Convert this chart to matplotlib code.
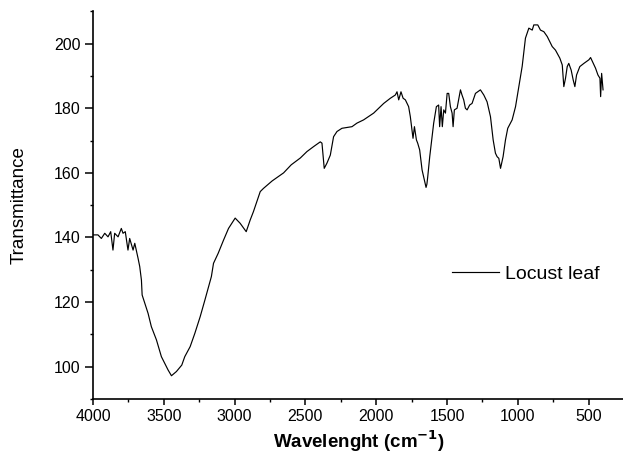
import matplotlib
matplotlib.use("Agg")
import matplotlib.pyplot as plt
from matplotlib.ticker import MultipleLocator

plt.rcParams['font.family'] = ['Liberation Sans', 'DejaVu Sans']

# ---- data ----
wavenumber = [
    4000, 3965, 3941, 3917, 3894, 3875, 3859, 3847, 3823, 3800, 3788, 3772,
    3753, 3741, 3717, 3705, 3682, 3670, 3658, 3653, 3634, 3611, 3588, 3552,
    3517, 3470, 3446, 3411, 3373, 3352, 3314, 3281, 3243, 3210, 3164, 3149,
    3116, 3078, 3043, 2996, 2961, 2918, 2890, 2867, 2843, 2819, 2796, 2735,
    2654, 2600, 2536, 2489, 2440, 2395, 2383, 2367, 2348, 2324, 2301, 2277,
    2242, 2171, 2136, 2089, 2018, 1947, 1900, 1865, 1853, 1841, 1825, 1810,
    1794, 1771, 1759, 1740, 1730, 1716, 1707, 1693, 1676, 1660, 1648, 1642,
    1636, 1622, 1594, 1575, 1559, 1552, 1542, 1533, 1523, 1511, 1499, 1488,
    1476, 1464, 1457, 1448, 1429, 1405, 1394, 1382, 1370, 1358, 1340, 1323,
    1299, 1264, 1240, 1217, 1193, 1174, 1158, 1146, 1134, 1122, 1104, 1087,
    1071, 1040, 1016, 993, 969, 946, 922, 898, 887, 859, 840, 816, 792, 757,
    734, 703, 686, 675, 663, 651, 640, 623, 609, 597, 585, 562, 533, 498,
    486, 467, 451, 434, 420, 415, 408, 398,
]
transmittance = [
    140.8, 140.8, 139.7, 141.3, 140.2, 141.8, 136.1, 141.3, 140.2, 142.8, 141.3, 141.8,
    136.1, 139.7, 136.1, 138.2, 133.6, 131.0, 126.8, 122.2, 119.6, 116.5, 112.4, 108.3,
    103.1, 99.0, 97.2, 98.5, 100.5, 103.1, 106.2, 110.3, 115.5, 120.6, 127.9, 132.0,
    135.1, 139.2, 142.8, 146.0, 144.4, 141.8, 145.4, 148.0, 151.1, 154.2, 155.2, 157.5,
    160.0, 162.5, 164.6, 166.6, 168.2, 169.6, 169.2, 161.4, 163.0, 165.5, 171.2, 172.8,
    173.8, 174.3, 175.4, 176.4, 178.5, 181.5, 183.1, 184.1, 185.1, 182.6, 185.1, 183.1,
    182.6, 180.5, 177.4, 170.7, 174.3, 170.2, 169.2, 167.1, 160.9, 157.8, 155.5, 156.5,
    158.8, 165.0, 175.4, 180.5, 181.0, 174.3, 180.5, 174.3, 179.5, 178.5, 184.6, 184.6,
    180.5, 178.5, 174.3, 179.5, 180.0, 185.7, 184.1, 182.6, 180.0, 179.5, 181.0, 181.5,
    184.6, 185.7, 184.1, 182.0, 177.4, 170.2, 166.1, 165.0, 164.5, 161.4, 165.0, 170.2,
    173.8, 176.4, 180.5, 186.7, 193.0, 201.7, 204.8, 204.2, 205.8, 205.8, 204.2, 203.7, 202.2, 199.1,
    198.0, 195.5, 193.4, 186.7, 189.3, 192.9, 193.9, 191.8, 188.8, 186.7, 190.3, 192.9, 193.9, 195.0,
    195.7, 193.9, 192.4, 190.3, 189.3, 183.6, 190.8, 185.7,
]
x_ticks = [4000, 3500, 3000, 2500, 2000, 1500, 1000, 500]
y_ticks = [100, 120, 140, 160, 180, 200]
series_label = "Locust leaf"

fig = plt.figure(figsize=(6.23, 4.59), dpi=100)
ax = fig.add_axes([93 / 623, 1 - 399 / 459, (624 - 93) / 623, (399 - 10.7) / 459])

ax.plot(wavenumber, transmittance, color='black', lw=0.85, label=series_label)

ax.set_xlim(4000, 250)
ax.set_ylim(90, 210.2)
ax.set_xticks(x_ticks)
ax.set_yticks(y_ticks)
ax.xaxis.set_minor_locator(MultipleLocator(250))
ax.yaxis.set_minor_locator(MultipleLocator(10))

for s in ['top', 'right']:
    ax.spines[s].set_visible(False)
for s in ['left', 'bottom']:
    ax.spines[s].set_linewidth(1.2)

ax.tick_params(axis='both', which='major', direction='out', width=1.1, labelsize=11.5, pad=3)
ax.tick_params(axis='x', which='major', length=4.5)
ax.tick_params(axis='y', which='major', length=6)
ax.tick_params(axis='both', which='minor', direction='out', width=1.0, length=2.5)

ax.set_xlabel("Wavelenght (cm$^{\\mathbf{-1}}$)", fontsize=13.5, fontweight='bold')
ax.xaxis.set_label_coords(0.5, (399 - 428) / 388.3)
ax.set_ylabel("Transmittance", fontsize=13.5, va='center')
ax.yaxis.set_label_coords((19 - 93) / 531, 0.5)

ax.legend(loc='center left', bbox_to_anchor=((452 - 93) / 531, (399 - 274) / 388.3),
          frameon=False, fontsize=14, handlelength=2.4, handletextpad=0.35,
          borderpad=0, borderaxespad=0)

fig.savefig('out.png', dpi=100)
